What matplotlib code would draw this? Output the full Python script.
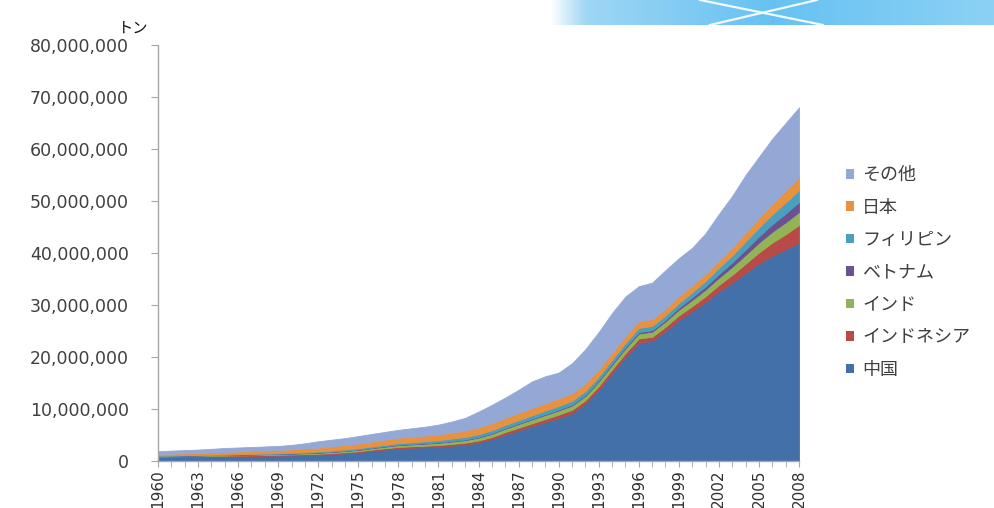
import numpy as np
import matplotlib
matplotlib.use("Agg")
import matplotlib.pyplot as plt
from matplotlib.ticker import FuncFormatter, MultipleLocator
from matplotlib.patches import Patch

plt.rcParams["font.family"] = ["Noto Sans CJK JP", "DejaVu Sans"]

# Aquaculture production by country, million tonnes, 1960-2008
years = np.arange(1960, 2009)

china = [0.75, 0.78, 0.80, 0.83, 0.86, 0.90, 0.93, 0.96, 1.00, 1.03,
         1.08, 1.14, 1.20, 1.32, 1.48, 1.65, 1.95, 2.20, 2.45, 2.55,
         2.65, 2.75, 2.95, 3.15, 3.55, 4.20, 5.10, 5.90, 6.70, 7.50,
         8.30, 9.20, 11.00, 13.70, 16.90, 20.00, 22.80, 23.10, 25.00, 27.10,
         28.80, 30.60, 32.60, 34.30, 36.20, 38.00, 39.50, 40.70, 42.00]

indonesia = [0.12, 0.12, 0.13, 0.13, 0.14, 0.14, 0.15, 0.16, 0.16, 0.17,
             0.18, 0.19, 0.20, 0.21, 0.22, 0.23, 0.24, 0.25, 0.26, 0.28,
             0.30, 0.32, 0.34, 0.37, 0.40, 0.43, 0.47, 0.51, 0.55, 0.58,
             0.62, 0.65, 0.68, 0.70, 0.72, 0.74, 0.76, 0.78, 0.82, 0.90,
             0.98, 1.08, 1.25, 1.50, 1.75, 2.10, 2.50, 2.90, 3.40]

india = [0.08, 0.08, 0.09, 0.09, 0.10, 0.10, 0.11, 0.12, 0.13, 0.14,
         0.15, 0.17, 0.19, 0.21, 0.23, 0.26, 0.28, 0.31, 0.34, 0.36,
         0.38, 0.42, 0.46, 0.50, 0.55, 0.60, 0.65, 0.70, 0.74, 0.77,
         0.80, 0.82, 0.85, 0.88, 0.90, 0.92, 0.95, 0.98, 1.02, 1.10,
         1.20, 1.30, 1.40, 1.55, 1.70, 1.90, 2.10, 2.30, 2.50]

vietnam = [0.03, 0.03, 0.03, 0.04, 0.04, 0.04, 0.04, 0.04, 0.05, 0.05,
           0.05, 0.05, 0.06, 0.06, 0.06, 0.07, 0.07, 0.08, 0.09, 0.09,
           0.10, 0.10, 0.11, 0.11, 0.12, 0.12, 0.13, 0.13, 0.14, 0.15,
           0.16, 0.17, 0.18, 0.20, 0.22, 0.25, 0.28, 0.30, 0.33, 0.40,
           0.50, 0.60, 0.70, 0.85, 1.00, 1.20, 1.45, 1.70, 1.90]

philippines = [0.08, 0.08, 0.09, 0.09, 0.10, 0.10, 0.11, 0.11, 0.12, 0.13,
               0.14, 0.16, 0.18, 0.20, 0.22, 0.24, 0.26, 0.28, 0.31, 0.34,
               0.38, 0.42, 0.46, 0.50, 0.55, 0.58, 0.60, 0.63, 0.66, 0.70,
               0.72, 0.74, 0.75, 0.75, 0.76, 0.78, 0.80, 0.82, 0.84, 0.88,
               0.95, 1.05, 1.20, 1.35, 1.55, 1.70, 1.90, 2.10, 2.30]

japan = [0.30, 0.32, 0.34, 0.36, 0.40, 0.44, 0.48, 0.52, 0.56, 0.60,
         0.65, 0.70, 0.75, 0.82, 0.88, 0.92, 0.95, 0.98, 1.02, 1.05,
         1.08, 1.10, 1.15, 1.22, 1.28, 1.32, 1.35, 1.38, 1.40, 1.42,
         1.45, 1.43, 1.40, 1.38, 1.36, 1.34, 1.32, 1.30, 1.28, 1.30,
         1.32, 1.35, 1.40, 1.50, 1.65, 1.80, 2.00, 2.25, 2.50]

others = [0.54, 0.59, 0.62, 0.66, 0.71, 0.78, 0.78, 0.79, 0.78, 0.78,
          0.85, 0.99, 1.22, 1.28, 1.31, 1.43, 1.45, 1.50, 1.53, 1.63,
          1.71, 1.89, 2.13, 2.45, 3.05, 3.55, 3.90, 4.45, 5.11, 5.18,
          4.95, 5.79, 6.64, 7.19, 7.60, 7.60, 6.70, 7.02, 7.40, 7.32,
          7.25, 7.82, 8.95, 9.95, 11.15, 11.80, 12.55, 13.05, 13.40]

names = ["中国", "インドネシア", "インド", "ベトナム", "フィリピン", "日本", "その他"]
series = [china, indonesia, india, vietnam, philippines, japan, others]
colors = ["#4470AA", "#B84A47", "#93B456", "#6B5192", "#4A9FBE", "#E8913F", "#94A8D6"]

TONNES_PER_UNIT = 1e6
values = [np.asarray(s) * TONNES_PER_UNIT for s in series]

W, H = 995, 508
fig = plt.figure(figsize=(W / 100, H / 100), dpi=100)
fig.patch.set_facecolor("white")

# decorative header band in the top-right corner
band = fig.add_axes([550 / W, 1 - 25 / H, 445 / W, 25 / H])
grad = np.linspace(0, 1, 256)
r = np.interp(grad, [0, 0.08, 0.5, 1], [1.0, 0.62, 0.40, 0.55])
g = np.interp(grad, [0, 0.08, 0.5, 1], [1.0, 0.84, 0.76, 0.82])
b = np.interp(grad, [0, 0.08, 0.5, 1], [1.0, 0.96, 0.95, 0.96])
band.imshow(np.dstack([r, g, b]), aspect="auto", extent=[0, 445, 0, 25])
band.plot([150, 273], [25, 0], color="white", lw=1.6, alpha=0.9)
band.plot([160, 267], [0, 25], color="white", lw=1.6, alpha=0.9)
band.set_xlim(0, 445)
band.set_ylim(0, 25)
band.axis("off")

ax = fig.add_axes([158 / W, 47 / H, (799 - 158) / W, (461 - 45) / H])
polys = ax.stackplot(years, *values, colors=colors, labels=names, linewidth=0.6)
for p, c in zip(polys, colors):
    p.set_edgecolor(c)

ax.set_xlim(1960, 2008)
ax.set_ylim(0, 80_000_000)
ax.yaxis.set_major_locator(MultipleLocator(10_000_000))
ax.yaxis.set_major_formatter(FuncFormatter(lambda v, pos: f"{int(v):,}"))

ax.set_xticks(years[::3])
ax.set_xticklabels([str(y) for y in years[::3]], rotation=90,
                   family="DejaVu Sans", fontsize=11, color="#303030")
ax.set_xticks(years, minor=True)

for side in ("top", "right"):
    ax.spines[side].set_visible(False)
for side in ("left", "bottom"):
    ax.spines[side].set_color("#A6A6A6")
    ax.spines[side].set_linewidth(1.0)

ax.tick_params(axis="y", length=5, color="#A6A6A6", pad=16, labelsize=12.5,
               labelcolor="#404040")
for lbl in ax.get_yticklabels():
    lbl.set_family("DejaVu Sans")
ax.tick_params(axis="x", which="both", length=4, color="#A6A6A6", pad=2)

fig.text(133 / W, 1 - 28 / H, "トン", fontsize=11, ha="center", va="center",
         color="#111111")

handles = [Patch(facecolor=c, edgecolor="none") for c in colors][::-1]
leg = ax.legend(handles, names[::-1], loc="center left",
                bbox_to_anchor=(846 / W, 1 - 272.5 / H), bbox_transform=fig.transFigure,
                frameon=False, fontsize=13, handlelength=0.45, handleheight=0.45,
                handletextpad=0.45, labelspacing=0.8, borderpad=0, borderaxespad=0)
for t in leg.get_texts():
    t.set_color("#404040")

fig.savefig("out.png", dpi=100)
